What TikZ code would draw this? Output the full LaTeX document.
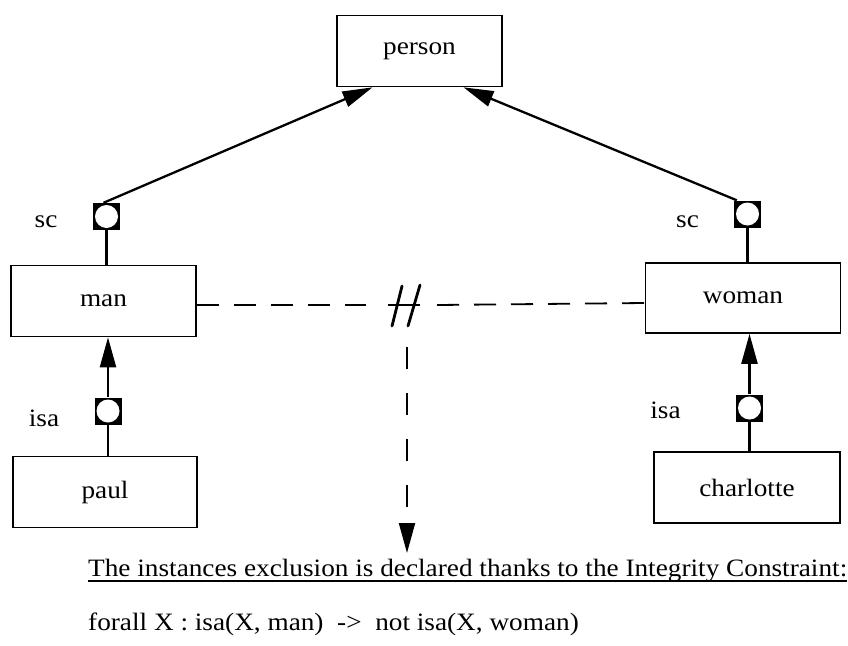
\documentclass[tikz,border=0pt]{standalone}
\usepackage{fontspec}
\setmainfont{Liberation Serif}[FakeStretch=1.09]
\usetikzlibrary{arrows.meta}
\begin{document}
\begin{tikzpicture}[x=1pt,y=-1pt,
  every node/.style={font=\fontsize{25}{30}\selectfont},
  concept/.style={draw, line width=1.7pt, minimum height=71pt, inner sep=0pt},
  link/.style={fill=black, minimum size=27pt, inner sep=0pt,
    path picture={\fill[white] (path picture bounding box.center) circle (11.5pt);}},
  lbl/.style={anchor=base, inner sep=0pt},
  conn/.style={line width=2.3pt},
  tri/.style={-{Triangle[length=30pt,width=16pt]}},
  excl/.style={line width=1.8pt, dash pattern=on 22pt off 15pt},
  exclv/.style={line width=2pt, dash pattern=on 22pt off 24pt},
  note/.style={anchor=base west, inner sep=0pt}]
\useasboundingbox (0,0) rectangle (848,645);

% classes and instances
\node[concept, minimum width=165pt] (person) at (419.5,51) {person};
\node[concept, minimum width=185pt] (man) at (103.5,301) {man};
\node[concept, minimum width=195pt, minimum height=70pt] (woman) at (743,298) {woman};
\node[concept, minimum width=184pt] (paul) at (105,492) {paul};
\node[concept, minimum width=186pt] (charlotte) at (747,487.5) {charlotte};

% link markers
\node[link] (scL) at (106.5,216.5) {};
\node[link] (scR) at (747.5,214) {};
\node[link] (isaL) at (108,411) {};
\node[link] (isaR) at (749.5,408) {};

% link labels
\node[lbl] (scLlab) at (46,227) {sc};
\node[lbl] (scRlab) at (687.5,227) {sc};
\node[lbl] (isaLlab) at (44,426) {isa};
\node[lbl] (isaRlab) at (665.5,418) {isa};

% subclass links
\draw[conn] (scL.south) -- (scL.south |- man.north);
\draw[conn, tri] ([xshift=-3pt]scL.north) -- ([xshift=-47pt]person.south);
\draw[conn] (scR.south) -- (scR.south |- woman.north);
\draw[conn, tri] ([xshift=3pt]scR.north west) -- ([xshift=44pt]person.south);

% instance links
\draw[conn] (isaL.south |- paul.north) -- (isaL.south);
\draw[conn, tri] (isaL.north) -- (isaL.north |- man.south);
\draw[conn] (isaR.south |- charlotte.north) -- (isaR.south);
\draw[conn, tri] (isaR.north) -- (isaR.north |- woman.south);

% exclusion between man and woman
\coordinate (cut) at (406,305);
\coordinate (gapL) at (366,305);
\coordinate (gapR) at (437,305);
\coordinate (noteTip) at (407,553);
\draw[excl] ([yshift=-4pt]man.east) -- (gapL);
\draw[excl] (gapR) -- ([yshift=-5pt]woman.west);
\draw[line width=1.8pt] ([xshift=-18pt]cut) -- ([xshift=14pt]cut);
\draw[line width=2.8pt, line cap=round] (cut) ++(-14,21) -- ++(10,-40);
\draw[line width=2.8pt, line cap=round] (cut) ++(2,21) -- ++(12,-41);
\draw[exclv, tri] ([xshift=1pt,yshift=-42pt]cut) -- (noteTip);

% integrity constraint
\node[note] (ic) at (88,576) {The instances exclusion is declared thanks to the Integrity Constraint:};
\draw[line width=1.3pt] ([yshift=-5pt]ic.base west) -- ([yshift=-5pt]ic.base east);
\node[note] (rule) at (88,630) {forall X : isa(X, man)\ \ ->\ \ not isa(X, woman)};
\end{tikzpicture}
\end{document}
